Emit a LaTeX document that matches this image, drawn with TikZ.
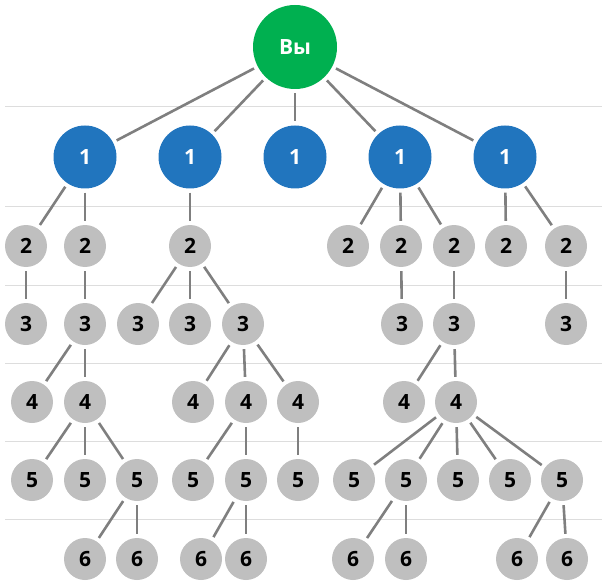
\documentclass[tikz,border=0pt]{standalone}
\usepackage{fontspec}
\setmainfont{Open Sans}
\definecolor{yougreen}{HTML}{00B050}
\definecolor{friendblue}{HTML}{2175BE}
\definecolor{nodegrey}{HTML}{BFBFBF}
\definecolor{edgegrey}{HTML}{7F7F7F}
\definecolor{rulegrey}{HTML}{DDDDDD}
\begin{document}
\begin{tikzpicture}[x=1pt,y=-1pt]
    \tikzstyle{every node}=[shape=circle,inner sep=0pt,font=\fontsize{21}{25}\selectfont\bfseries];
    \tikzstyle{you}=[fill=yougreen,text=white,minimum size=84pt];
    \tikzstyle{friend}=[fill=friendblue,text=white,minimum size=63pt];
    \tikzstyle{other}=[fill=nodegrey,text=black,minimum size=42pt];
    \tikzstyle{link}=[draw=edgegrey,line width=2.6pt,shorten <=4pt,shorten >=4pt];
    \tikzstyle{sep}=[draw=rulegrey,line width=1pt];
    \useasboundingbox (0,0) rectangle (604,585);
    % separators
    \foreach \y in {107,207,285,363,441,519}
        \draw[sep] (5,\y) -- (602,\y);
    % you
    \node[you] at (295, 47) (v) {Вы};
    % level 1
    \node[friend] at (85, 157) (a1) {1};
    \node[friend] at (190, 157) (a2) {1};
    \node[friend] at (295, 157) (a3) {1};
    \node[friend] at (400, 157) (a4) {1};
    \node[friend] at (505, 157) (a5) {1};
    % level 2
    \node[other] at (26, 246) (b1) {2};
    \node[other] at (85, 246) (b2) {2};
    \node[other] at (190, 246) (b3) {2};
    \node[other] at (348, 246) (b4) {2};
    \node[other] at (401, 246) (b5) {2};
    \node[other] at (454, 246) (b6) {2};
    \node[other] at (506, 246) (b7) {2};
    \node[other] at (566, 246) (b8) {2};
    % level 3
    \node[other] at (26, 324) (c1) {3};
    \node[other] at (85, 324) (c2) {3};
    \node[other] at (138, 324) (c3) {3};
    \node[other] at (190, 324) (c4) {3};
    \node[other] at (243, 324) (c5) {3};
    \node[other] at (402, 324) (c6) {3};
    \node[other] at (454, 324) (c7) {3};
    \node[other] at (566, 324) (c8) {3};
    % level 4
    \node[other] at (32, 402) (d1) {4};
    \node[other] at (85, 402) (d2) {4};
    \node[other] at (193, 402) (d3) {4};
    \node[other] at (246, 402) (d4) {4};
    \node[other] at (298, 402) (d5) {4};
    \node[other] at (404, 402) (d6) {4};
    \node[other] at (456, 402) (d7) {4};
    % level 5
    \node[other] at (32, 480) (e1) {5};
    \node[other] at (85, 480) (e2) {5};
    \node[other] at (137, 480) (e3) {5};
    \node[other] at (193, 480) (e4) {5};
    \node[other] at (246, 480) (e5) {5};
    \node[other] at (298, 480) (e6) {5};
    \node[other] at (354, 480) (e7) {5};
    \node[other] at (406, 480) (e8) {5};
    \node[other] at (458, 480) (e9) {5};
    \node[other] at (510, 480) (e10) {5};
    \node[other] at (562, 480) (e11) {5};
    % level 6
    \node[other] at (85, 559) (f1) {6};
    \node[other] at (137, 559) (f2) {6};
    \node[other] at (201, 559) (f3) {6};
    \node[other] at (246, 559) (f4) {6};
    \node[other] at (353, 559) (f5) {6};
    \node[other] at (406, 559) (f6) {6};
    \node[other] at (517, 559) (f7) {6};
    \node[other] at (567, 559) (f8) {6};
    % links
    \draw[link] (v) -- (a1);
    \draw[link] (v) -- (a2);
    \draw[link] (v) -- (a3);
    \draw[link] (v) -- (a4);
    \draw[link] (v) -- (a5);
    \draw[link] (a1) -- (b1);
    \draw[link] (a1) -- (b2);
    \draw[link] (b1) -- (c1);
    \draw[link] (b2) -- (c2);
    \draw[link] (c2) -- (d1);
    \draw[link] (c2) -- (d2);
    \draw[link] (d2) -- (e1);
    \draw[link] (d2) -- (e2);
    \draw[link] (d2) -- (e3);
    \draw[link] (e3) -- (f1);
    \draw[link] (e3) -- (f2);
    \draw[link] (a2) -- (b3);
    \draw[link] (b3) -- (c3);
    \draw[link] (b3) -- (c4);
    \draw[link] (b3) -- (c5);
    \draw[link] (c5) -- (d3);
    \draw[link] (c5) -- (d4);
    \draw[link] (c5) -- (d5);
    \draw[link] (d4) -- (e4);
    \draw[link] (d4) -- (e5);
    \draw[link] (d5) -- (e6);
    \draw[link] (e5) -- (f3);
    \draw[link] (e5) -- (f4);
    \draw[link] (a4) -- (b4);
    \draw[link] (a4) -- (b5);
    \draw[link] (a4) -- (b6);
    \draw[link] (b5) -- (c6);
    \draw[link] (b6) -- (c7);
    \draw[link] (c7) -- (d6);
    \draw[link] (c7) -- (d7);
    \draw[link] (d7) -- (e7);
    \draw[link] (d7) -- (e8);
    \draw[link] (d7) -- (e9);
    \draw[link] (d7) -- (e10);
    \draw[link] (d7) -- (e11);
    \draw[link] (e8) -- (f5);
    \draw[link] (e8) -- (f6);
    \draw[link] (e11) -- (f7);
    \draw[link] (e11) -- (f8);
    \draw[link] (a5) -- (b7);
    \draw[link] (a5) -- (b8);
    \draw[link] (b8) -- (c8);
\end{tikzpicture}
\end{document}
